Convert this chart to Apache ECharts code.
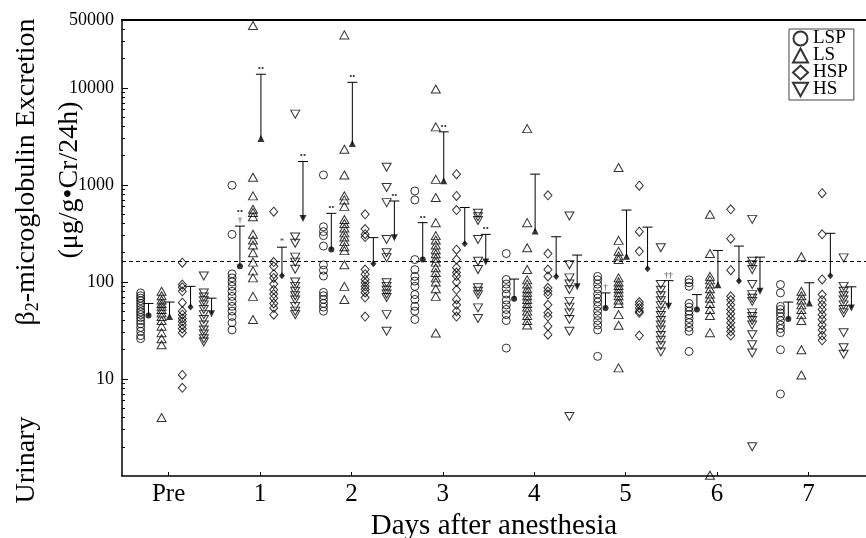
<!DOCTYPE html>
<html>
<head>
<meta charset="utf-8">
<script src="https://cdn.jsdelivr.net/npm/echarts@6/dist/echarts.min.js"></script>
<style>
  html, body { margin: 0; padding: 0; background: #fff; }
  #chart { width: 866px; height: 538px; }
</style>
</head>
<body>
<div id="chart"></div>
<script>
// categories on the x axis (index 0 = Pre)
var days = ['Pre', '1', '2', '3', '4', '5', '6', '7']

// individual values, one list per day
var lsp = [
  [77, 72, 68, 64, 60, 56, 52, 49, 46, 43, 40, 37, 34, 31, 28, 26],
  [990, 309, 121, 110, 100, 90, 80, 71, 63, 56, 50, 44, 38, 32],
  [1265, 370, 330, 300, 234, 150, 132, 115, 78, 72, 66, 60, 55, 50],
  [865, 700, 170, 134, 114, 102, 90, 74, 66, 56, 50, 41],
  [196, 106, 95, 85, 75, 65, 58, 52, 46, 40, 20.8],
  [114, 105, 95, 85, 75, 68, 62, 56, 50, 45, 40, 36, 32, 17.1],
  [105, 98, 90, 60, 55, 50, 46, 42, 38, 34, 31, 19.2],
  [94, 77, 56, 52, 48, 44, 40, 36, 33, 30, 20, 7.0]
]
var ls = [
  [80, 72, 65, 60, 56, 52, 48, 44, 40, 35, 30, 26, 22.5, 4.0],
  [43800, 1200, 770, 560, 520, 470, 310, 270, 240, 200, 160, 130, 110, 71, 41],
  [35100, 2330, 1265, 770, 700, 600, 440, 400, 360, 320, 290, 260, 230, 210, 150, 90, 66],
  [9720, 3960, 1140, 740, 408, 300, 270, 240, 215, 195, 175, 160, 140, 125, 110, 100, 85, 71, 29.7],
  [3800, 408, 225, 134, 105, 95, 85, 78, 72, 66, 60, 55, 50, 45, 40, 36],
  [1510, 268, 207, 185, 170, 110, 100, 92, 85, 78, 72, 65, 60, 46, 35.7, 13],
  [497, 196, 114, 105, 95, 85, 75, 68, 60, 52, 45, 30, 1.02],
  [182, 80, 72, 65, 58, 52, 46, 40, 20, 11]
]
var hsp = [
  [158, 94, 88, 80, 61, 50, 46, 42, 39, 36, 33, 30, 11, 8.1],
  [530, 160, 145, 120, 110, 95, 83, 75, 68, 60, 54, 46],
  [497, 350, 310, 290, 134, 120, 106, 98, 90, 84, 78, 69, 44],
  [1290, 770, 550, 215, 170, 140, 125, 115, 100, 83, 66, 58, 50, 44],
  [780, 196, 134, 114, 87, 80, 74, 58, 48, 44, 35, 28.6],
  [980, 329, 207, 62, 58, 54, 50, 48, 28],
  [560, 279, 132, 71, 65, 58, 52, 47, 42, 38, 34, 31, 28],
  [820, 309, 106, 74, 65, 58, 52, 46, 41, 36, 32, 28, 25]
]
var hs = [
  [115, 77, 70, 64, 58, 52, 46, 41, 36, 32, 29, 26, 24],
  [5360, 290, 250, 180, 160, 135, 100, 90, 80, 72, 65, 56, 50, 46],
  [1520, 940, 656, 274, 200, 178, 98, 90, 82, 75, 69, 46, 31],
  [510, 470, 430, 274, 163, 134, 87, 80, 74, 54, 42],
  [478, 150, 110, 95, 83, 63, 55, 48, 41, 31, 4.1],
  [225, 94, 82, 72, 64, 57, 50, 45, 40, 36, 32, 28, 25, 22, 19],
  [441, 163, 150, 134, 94, 74, 68, 63, 48, 44, 40, 36, 28.6, 22.5, 18.5, 2.0],
  [177, 90, 80, 72, 65, 58, 52, 48, 30, 21, 18]
]

// means and mean + SD
var lspMean = [45, 145, 216, 170, 67, 54, 52, 41.5]
var lspUpper = [60, 376, 509, 408, 107, 77, 74, 62]
var lsMean = [44, 3000, 2670, 1100, 334, 184, 93.5, 60.7]
var lsUpper = [62, 13800, 11400, 3520, 1290, 550, 211, 98]
var hspMean = [55, 116, 154, 248, 114, 137, 102, 116]
var hspUpper = [90, 228, 286, 584, 292, 367, 234, 317]
var hsMean = [47, 450, 286, 160, 89, 56, 80, 54]
var hsUpper = [68, 1740, 682, 309, 189, 103, 180, 89]

// significance marks: [group, day, text]
var sigMarks = [
  ['LSP', 1, '••\n†'], ['LS', 1, '••'], ['HSP', 1, '*'], ['HS', 1, '••'],
  ['LSP', 2, '••'], ['LS', 2, '••'], ['HS', 2, '••'],
  ['LSP', 3, '••'], ['LS', 3, '••'], ['HS', 3, '••'],
  ['LSP', 5, '†'], ['HS', 5, '††']
]

var refLine = 162
var yLabels = [10, 100, 1000, 10000, 50000]
var yMinor = [2, 3, 4, 5, 6, 7, 8, 9, 20, 30, 40, 50, 60, 70, 80, 90,
  200, 300, 400, 500, 600, 700, 800, 900, 2000, 3000, 4000, 5000, 6000, 7000, 8000, 9000,
  20000, 30000, 40000]

var font = 'Liberation Serif'
var groups = [
  {name: 'LSP', vals: lsp, mean: lspMean, upper: lspUpper, off: -0.306, mOff: -0.22, symbol: 'circle', size: 8, mSize: 6, rot: 0},
  {name: 'LS', vals: ls, mean: lsMean, upper: lsUpper, off: -0.077, mOff: 0.01, symbol: 'triangle', size: [9, 8], mSize: [7, 7], rot: 0},
  {name: 'HSP', vals: hsp, mean: hspMean, upper: hspUpper, off: 0.15, mOff: 0.24, symbol: 'diamond', size: [8, 9], mSize: [6, 7], rot: 0},
  {name: 'HS', vals: hs, mean: hsMean, upper: hsUpper, off: 0.385, mOff: 0.47, symbol: 'triangle', size: [9, 8], mSize: [7, 7], rot: 180}
]

var series = []
groups.forEach(function (g) {
  var pts = []
  g.vals.forEach(function (list, d) {
    list.forEach(function (v) { pts.push([d + g.off, v]) })
  })
  series.push({
    name: g.name,
    type: 'scatter',
    data: pts,
    symbol: g.symbol,
    symbolSize: g.size,
    symbolRotate: g.rot,
    itemStyle: {color: 'rgba(0,0,0,0)', borderColor: '#000', borderWidth: 1},
    silent: true,
    z: 2
  })
})
groups.forEach(function (g) {
  var bars = g.mean.map(function (m, d) { return [d + g.mOff, m, g.upper[d]] })
  series.push({
    type: 'custom',
    data: bars,
    silent: true,
    z: 3,
    renderItem: function (params, api) {
      var p0 = api.coord([api.value(0), api.value(1)])
      var p1 = api.coord([api.value(0), api.value(2)])
      return {
        type: 'group',
        children: [
          {type: 'line', shape: {x1: p0[0], y1: p0[1], x2: p1[0], y2: p1[1]}, style: {stroke: '#000', lineWidth: 1}},
          {type: 'line', shape: {x1: p1[0] - 5, y1: p1[1], x2: p1[0] + 5, y2: p1[1]}, style: {stroke: '#000', lineWidth: 1}}
        ]
      }
    }
  })
  series.push({
    type: 'scatter',
    data: g.mean.map(function (m, d) { return [d + g.mOff, m] }),
    symbol: g.symbol,
    symbolSize: g.mSize,
    symbolRotate: g.rot,
    itemStyle: {color: '#000'},
    silent: true,
    z: 4
  })
})
// significance labels above the caps
series.push({
  type: 'scatter',
  data: sigMarks.map(function (s) {
    var g = groups.filter(function (q) { return q.name === s[0] })[0]
    return {value: [s[1] + g.mOff, g.upper[s[1]]], label: {formatter: s[2]}}
  }),
  symbolSize: 0,
  silent: true,
  z: 5,
  label: {show: true, position: 'top', distance: 1, color: '#000', fontSize: 9, lineHeight: 9, fontFamily: font}
})
// dashed reference line
series.push({
  type: 'scatter',
  data: [],
  silent: true,
  markLine: {
    silent: true,
    symbol: 'none',
    label: {show: false},
    lineStyle: {type: [4, 3], color: '#000', width: 1},
    data: [{yAxis: refLine}]
  }
})

var myChart = echarts.init(document.getElementById('chart'))
myChart.setOption({
  animation: false,
  backgroundColor: '#fff',
  grid: {left: 122, right: 0, top: 20, bottom: 62, outerBoundsMode: 'none'},
  legend: {
    data: ['LSP', 'LS', 'HSP', {name: 'HS', icon: 'path://M0,0 L10,0 L5,9 Z'}],
    orient: 'vertical',
    left: 789,
    top: 29,
    padding: [0, 6, 1, 3],
    itemWidth: 15,
    itemHeight: 14,
    itemGap: -2,
    borderColor: '#444',
    borderWidth: 1,
    textStyle: {fontFamily: font, fontSize: 19, color: '#000'},
    selectedMode: false
  },
  xAxis: [{
    type: 'value',
    min: -0.51,
    max: 7.63,
    position: 'bottom',
    axisLine: {onZero: false, lineStyle: {color: '#000', width: 1.5}},
    axisTick: {inside: true, length: 4, customValues: [0, 1, 2, 3, 4, 5, 6, 7], lineStyle: {color: '#000'}},
    axisLabel: {
      customValues: [0, 1, 2, 3, 4, 5, 6, 7],
      formatter: function (v) { return days[Math.round(v)] },
      fontFamily: font, fontSize: 25, color: '#000', margin: 6
    },
    splitLine: {show: false},
    name: 'Days after anesthesia',
    nameLocation: 'middle',
    nameGap: 25,
    nameTextStyle: {fontFamily: font, fontSize: 29, color: '#000'}
  }, {
    type: 'value',
    min: -0.51,
    max: 7.63,
    position: 'top',
    axisLine: {onZero: false, lineStyle: {color: '#000', width: 2}},
    axisTick: {show: false},
    axisLabel: {show: false},
    splitLine: {show: false}
  }],
  yAxis: [{
    type: 'log',
    logBase: 10,
    min: 1,
    max: 50000,
    axisLine: {show: true, onZero: false, lineStyle: {color: '#000', width: 1.5}},
    axisTick: {show: true, inside: true, length: 6, customValues: yLabels, lineStyle: {color: '#000'}},
    axisLabel: {
      customValues: yLabels,
      formatter: function (v) { return String(Math.round(v)) },
      fontFamily: font, fontSize: 18, color: '#000', margin: 8
    },
    splitLine: {show: false}
  }, {
    type: 'log',
    logBase: 10,
    min: 1,
    max: 50000,
    position: 'left',
    axisLine: {show: false, onZero: false},
    axisTick: {show: true, inside: true, length: 3, customValues: yMinor, lineStyle: {color: '#000'}},
    axisLabel: {show: false},
    splitLine: {show: false}
  }],
  graphic: [
    {
      type: 'text', x: 27, y: 460, rotation: Math.PI / 2,
      style: {text: 'Urinary', fontFamily: font, fontSize: 28, fill: '#000', align: 'center', verticalAlign: 'middle'}
    },
    {
      type: 'text', x: 27, y: 172, rotation: Math.PI / 2,
      style: {
        text: '{a|β}{s|2}{a|-microglobulin Excretion}',
        align: 'center', verticalAlign: 'middle',
        rich: {
          a: {fontFamily: font, fontSize: 28, fill: '#000'},
          s: {fontFamily: font, fontSize: 18, fill: '#000', padding: [12, 0, 0, 0]}
        }
      }
    },
    {
      type: 'text', x: 70, y: 180, rotation: Math.PI / 2,
      style: {text: '(μg/g•Cr/24h)', fontFamily: font, fontSize: 28, fill: '#000', align: 'center', verticalAlign: 'middle'}
    }
  ],
  series: series
})
</script>
</body>
</html>
